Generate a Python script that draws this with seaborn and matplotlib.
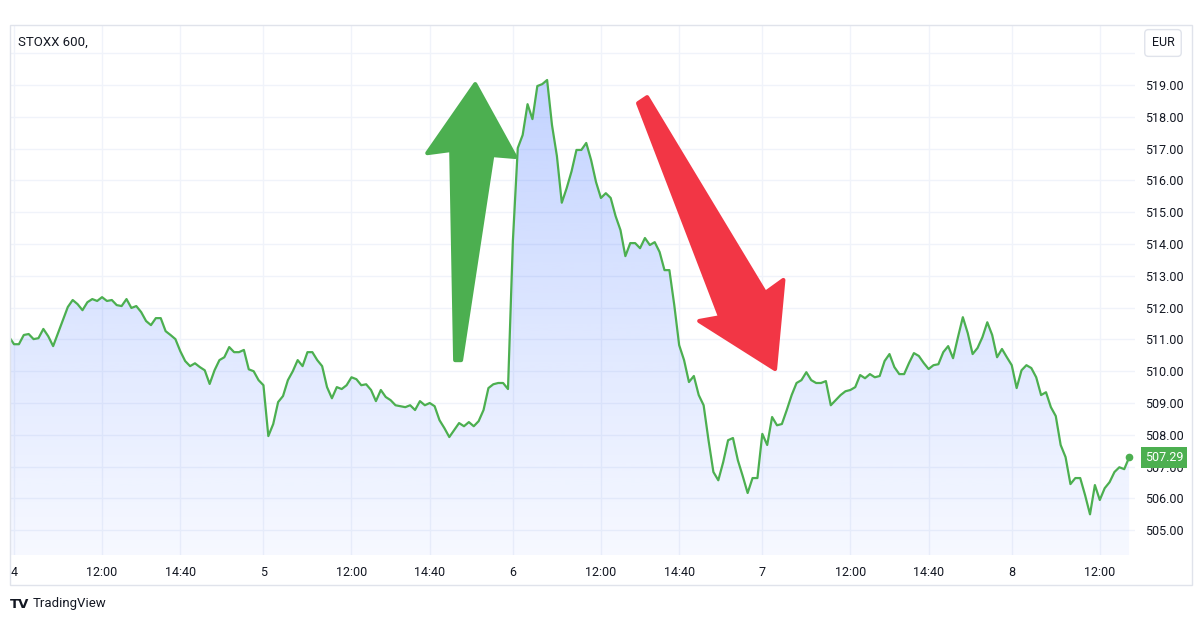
import numpy as np
import pandas as pd
import matplotlib
matplotlib.use("Agg")
import matplotlib.pyplot as plt
import matplotlib.transforms as mtransforms
import seaborn as sns
from matplotlib.patches import Polygon, Rectangle, PathPatch
from matplotlib.colors import LinearSegmentedColormap

# ---------------- data ----------------
title = "STOXX 600,"
currency = "EUR"
brand = "TradingView"
last_label = "507.29"

# bar before the first session (visible at the left edge)
prev_close = [511.08]
# 10-minute closes, 09:00 .. 17:20 for each session
day4 = [510.85, 510.85, 511.14, 511.17, 511.01, 511.04, 511.33, 511.10, 510.79, 511.20,
        511.61, 512.02, 512.24, 512.11, 511.92, 512.17, 512.27, 512.21, 512.33, 512.21,
        512.24, 512.08, 512.05, 512.27, 511.99, 512.05, 511.86, 511.58, 511.45, 511.67,
        511.67, 511.26, 511.14, 511.01, 510.63, 510.32, 510.16, 510.25, 510.13, 510.03,
        509.60, 510.03, 510.35, 510.44, 510.76, 510.60, 510.60, 510.67, 510.06, 510.00, 509.72]
day5 = [509.56, 507.96, 508.34, 509.03, 509.22, 509.72, 510.00, 510.35, 510.16, 510.60,
        510.60, 510.35, 510.16, 509.50, 509.15, 509.50, 509.44, 509.56, 509.81, 509.75,
        509.56, 509.59, 509.41, 509.06, 509.41, 509.19, 509.09, 508.93, 508.90, 508.87,
        508.93, 508.78, 509.06, 508.93, 509.00, 508.90, 508.46, 508.21, 507.93, 508.15,
        508.37, 508.27, 508.40, 508.27, 508.43, 508.78, 509.47, 509.59, 509.63, 509.63, 509.44]
day6 = [514.10, 517.02, 517.43, 518.40, 517.93, 518.97, 519.03, 519.16, 517.74, 516.77,
        515.30, 515.76, 516.29, 516.96, 516.96, 517.18, 516.64, 515.95, 515.45, 515.60,
        515.45, 514.88, 514.44, 513.62, 514.03, 514.03, 513.87, 514.19, 513.97, 514.06,
        513.75, 513.18, 513.18, 512.08, 510.82, 510.35, 509.66, 509.85, 509.25, 508.93,
        507.83, 506.83, 506.57, 507.14, 507.83, 507.90, 507.20, 506.70, 506.17, 506.64, 506.64]
day7 = [508.03, 507.68, 508.56, 508.30, 508.34, 508.78, 509.25, 509.63, 509.72, 509.97,
        509.72, 509.63, 509.63, 509.69, 508.93, 509.09, 509.25, 509.37, 509.41, 509.50,
        509.88, 509.78, 509.91, 509.81, 509.85, 510.32, 510.54, 510.13, 509.91, 509.91,
        510.26, 510.57, 510.48, 510.26, 510.07, 510.19, 510.22, 510.60, 510.79, 510.41,
        511.07, 511.70, 511.20, 510.54, 510.73, 511.07, 511.54, 511.14, 510.44, 510.70, 510.44]
day8 = [510.19, 509.47, 510.03, 510.19, 510.10, 509.81, 509.25, 509.34, 508.87, 508.59,
        507.68, 507.30, 506.45, 506.64, 506.64, 506.10, 505.50, 506.42, 505.95, 506.32,
        506.51, 506.83, 506.98, 506.92, 507.29]

bars_per_day = 51
tick_pos = [0, 18, 34, 51, 69, 85, 102, 120, 136, 153, 171, 187, 204, 222]
tick_labels = ["4", "12:00", "14:40", "5", "12:00", "14:40", "6", "12:00", "14:40",
               "7", "12:00", "14:40", "8", "12:00"]
price_ticks = list(range(505, 521))
price_labels = [f"{p:.2f}" for p in price_ticks[:-1]] + [""]

# annotation arrows (bar index, price)
green_arrow = [(90.2, 510.35), (89.4, 516.96), (84.5, 516.86), (94.3, 519.03),
               (102.5, 516.74), (97.8, 516.80), (91.4, 510.35)]
red_arrow = [(127.6, 518.43), (144.4, 511.70), (140.1, 511.58), (155.6, 510.07),
             (157.3, 512.87), (153.6, 512.46), (129.45, 518.62)]

# ---------------- style ----------------
sns.set_theme(style="white")
plt.rcParams['font.family'] = ['Roboto', 'DejaVu Sans']
TXT = "#131722"
GREEN = "#4CAF50"
GRID = "#F0F3FA"
BORDER = "#E0E3EB"

W, H = 1200, 620
fig = plt.figure(figsize=(W / 100, H / 100), dpi=100)
fig.patch.set_facecolor("white")


def fx(px):
    return px / W


def fy(py):
    return 1 - py / H


ax = fig.add_axes([fx(10), fy(555), fx(1135) - fx(10), fy(25) - fy(555)])
ax.set_facecolor("white")

values = prev_close + day4 + day5 + day6 + day7 + day8
bars = np.arange(len(values)) - len(prev_close)
df = pd.DataFrame({"bar": bars, "price": values})

ylo, yhi = 504.22, 520.89

# gradient area under the line
poly = ax.fill_between(df["bar"], df["price"], ylo, facecolor="none", edgecolor="none")
clip = PathPatch(poly.get_paths()[0], transform=ax.transData, facecolor="none", edgecolor="none")
ax.add_patch(clip)
cmap = LinearSegmentedColormap.from_list(
    "area", [(41 / 255, 98 / 255, 1.0, 0.04), (41 / 255, 98 / 255, 1.0, 0.28)])
grad = np.linspace(0, 1, 256).reshape(-1, 1)
im = ax.imshow(grad, cmap=cmap, extent=[bars[0], bars[-1], ylo, max(values)],
               origin="lower", aspect="auto", zorder=1, interpolation="bicubic")
im.set_clip_path(clip)

sns.lineplot(data=df, x="bar", y="price", color=GREEN, linewidth=1.6, ax=ax,
             legend=False, zorder=3)
ax.plot(df["bar"].iloc[-1], df["price"].iloc[-1], "o", color=GREEN, ms=4.5, zorder=4)

# arrows
for pts, col in [(green_arrow, "#4CAF50"), (red_arrow, "#F23645")]:
    ax.add_patch(Polygon(pts, closed=True, facecolor=col, edgecolor=col,
                         linewidth=3, joinstyle="round", zorder=5))

ax.set_xlim(-0.82, 229.2)
ax.set_ylim(ylo, yhi)
ax.set_xlabel("")
ax.set_ylabel("")

ax.set_xticks(tick_pos)
ax.set_xticklabels(tick_labels)
ax.set_yticks(price_ticks)
ax.set_yticklabels(price_labels)
ax.yaxis.tick_right()
ax.tick_params(axis="y", length=0, pad=7.5, labelsize=9, labelcolor=TXT)
ax.tick_params(axis="x", length=0, pad=8, labelsize=9, labelcolor=TXT)
ax.grid(True, color=GRID, linewidth=1)
ax.set_axisbelow(True)
for s in ax.spines.values():
    s.set_visible(False)

# last price label
trans = mtransforms.blended_transform_factory(ax.transAxes, ax.transData)
ax.text(1 + (1145 - 1135) / 1125, values[-1], last_label, transform=trans,
        ha="left", va="center", fontsize=9, color="white", zorder=10,
        bbox=dict(boxstyle="square,pad=0.3", facecolor=GREEN, edgecolor="none"))

# outer frame
fig.add_artist(Rectangle((fx(10), fy(585)), fx(1192) - fx(10), fy(25) - fy(585),
                         transform=fig.transFigure, fill=False, edgecolor=BORDER, lw=1))

# header texts
fig.text(fx(18), fy(42), title, ha="left", va="center", fontsize=9.5, color=TXT)
fig.text(fx(1163), fy(43), currency, ha="center", va="center", fontsize=9, color=TXT,
         bbox=dict(boxstyle="round,pad=0.55,rounding_size=0.3", facecolor="white",
                   edgecolor=BORDER, lw=1))

# footer brand
fig.text(fx(10), fy(604), "TV", ha="left", va="center", fontsize=9.5, color=TXT,
         fontweight="heavy", family=["DejaVu Sans"])
fig.text(fx(33), fy(604), brand, ha="left", va="center", fontsize=9.5, color=TXT)

fig.savefig("out.png", dpi=100, facecolor="white")
